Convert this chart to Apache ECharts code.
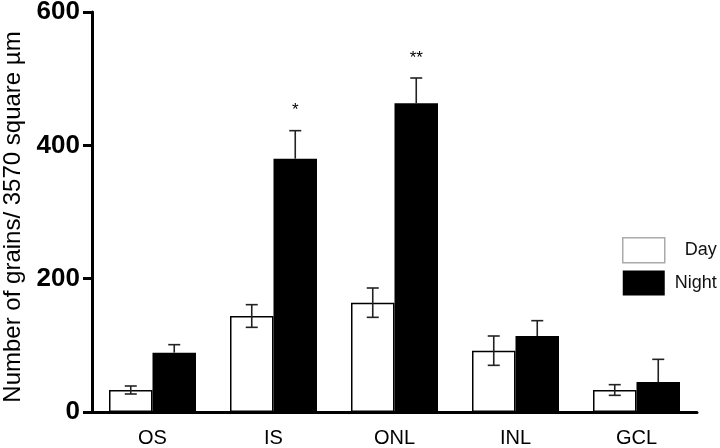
<!DOCTYPE html>
<html>
<head>
<meta charset="utf-8">
<script src="https://cdn.jsdelivr.net/npm/echarts@6/dist/echarts.min.js"></script>
<style>
html, body { margin: 0; padding: 0; background: #fff; }
#tubiao { width: 720px; height: 448px; }
</style>
</head>
<body>
<div id="tubiao"></div>
<script>
var categories = ['OS', 'IS', 'ONL', 'INL', 'GCL'];
var dayValues = [33, 144, 164, 92, 33];
var dayErrors = [6, 17, 22, 22, 8];
var nightValues = [89, 380, 463, 114, 45];
var nightErrors = [12, 42, 38, 23, 34];
var significance = ['', '*', '**', '', ''];
var yTicks = [0, 200, 400, 600];

var BAR_W = 43.5;   // 两根柱子并排，无间隔

function errorData(values, errors) {
	return values.map(function (v, i) { return [i, v, errors[i]]; });
}

function makeErrorRender(side) {
	return function (params, api) {
		var idx = api.value(0);
		var val = api.value(1);
		var err = api.value(2);
		var mid = api.coord([idx, val]);
		var hi = api.coord([idx, val + err]);
		var lo = api.coord([idx, val - err]);
		var x = hi[0] + side * BAR_W / 2;
		var cap = 6;
		var style = { stroke: '#222', lineWidth: 1.6 };
		var children = [
			{ type: 'line', shape: { x1: x, y1: hi[1], x2: x, y2: side > 0 ? mid[1] : lo[1] }, style: style },
			{ type: 'line', shape: { x1: x - cap, y1: hi[1], x2: x + cap, y2: hi[1] }, style: style }
		];
		// 黑柱里下半截看不见
		if (side < 0) {
			children.push({ type: 'line', shape: { x1: x - cap, y1: lo[1], x2: x + cap, y2: lo[1] }, style: style });
		}
		if (side > 0 && significance[params.dataIndex]) {
			children.push({
				type: 'text',
				style: {
					text: significance[params.dataIndex],
					x: x, y: hi[1] - 20,
					align: 'center', verticalAlign: 'middle',
					fontSize: 17, fontFamily: 'Liberation Sans', fill: '#000'
				}
			});
		}
		return { type: 'group', children: children };
	};
}

var myChart = echarts.init(document.getElementById('tubiao'));
var option = {
	animation: false,
	backgroundColor: '#fff',
	grid: { left: 92, right: 23, top: 12, bottom: 36, containLabel: false, outerBoundsMode: 'none' },
	legend: {
		orient: 'vertical',
		left: 622,
		top: 237,
		padding: 0,
		itemWidth: 42,
		itemHeight: 25,
		itemGap: 7,
		icon: 'rect',
		formatter: function (name) { return '{t|' + name + '}'; },
		textStyle: {
			fontSize: 18, fontFamily: 'Liberation Sans', color: '#111',
			rich: { t: { width: 47, align: 'right', fontSize: 18, fontFamily: 'Liberation Sans', color: '#111' } }
		},
		data: [
			{ name: 'Day', itemStyle: { color: '#fff', borderColor: '#aaa', borderWidth: 1.5 } },
			{ name: 'Night', itemStyle: { color: '#000' } }
		]
	},
	xAxis: {
		type: 'category',
		data: categories,
		axisLine: { lineStyle: { color: '#000', width: 3 } },
		axisTick: { show: false },
		axisLabel: { fontSize: 20, fontFamily: 'Liberation Sans', color: '#000', margin: 16 }
	},
	yAxis: {
		type: 'value',
		min: yTicks[0],
		max: yTicks[yTicks.length - 1],
		interval: 200,
		name: 'Number of grains/ 3570 square µm',
		nameLocation: 'middle',
		nameGap: 66,
		nameTextStyle: { fontSize: 24, fontFamily: 'Liberation Sans', color: '#000', padding: [0, 10, 0, 0] },
		axisLine: { show: true, lineStyle: { color: '#000', width: 3 } },
		axisTick: { show: true, length: 9, lineStyle: { color: '#000', width: 3 } },
		splitLine: { show: false },
		axisLabel: { fontSize: 26, fontWeight: 'bold', fontFamily: 'Liberation Sans', color: '#000', margin: 12 }
	},
	series: [
		{
			name: 'Day',
			type: 'bar',
			barWidth: BAR_W,
			barGap: '0%',
			itemStyle: { color: '#fff', borderColor: '#000', borderWidth: 1.5 },
			data: dayValues
		},
		{
			name: 'Night',
			type: 'bar',
			barWidth: BAR_W,
			barGap: '0%',
			itemStyle: { color: '#000' },
			data: nightValues
		},
		{
			name: 'Day err',
			type: 'custom',
			renderItem: makeErrorRender(-1),
			encode: { x: 0, y: 1 },
			z: 5,
			data: errorData(dayValues, dayErrors)
		},
		{
			name: 'Night err',
			type: 'custom',
			renderItem: makeErrorRender(1),
			encode: { x: 0, y: 1 },
			z: 5,
			data: errorData(nightValues, nightErrors)
		}
	]
};
myChart.setOption(option);
</script>
</body>
</html>
